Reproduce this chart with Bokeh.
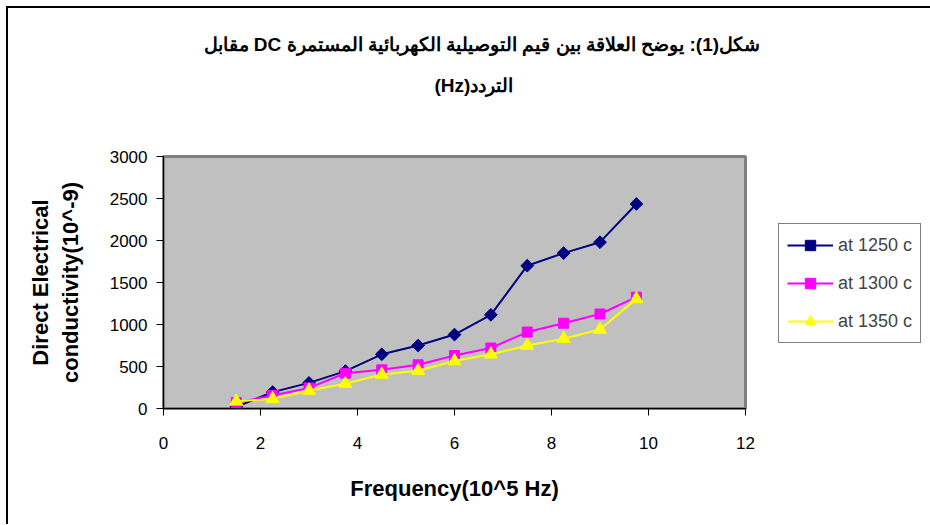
import math
from bokeh.plotting import figure
from bokeh.models import Range1d, FixedTicker, Legend, LegendItem, Title
from bokeh.layouts import row
from bokeh.embed import file_html
from bokeh.resources import INLINE

# ---- data ----
freq = [1.5, 2.25, 3.0, 3.75, 4.5, 5.25, 6.0, 6.75, 7.5, 8.25, 9.0, 9.75]
cond_1250 = [20, 195, 305, 445, 645, 750, 880, 1115, 1700, 1850, 1980, 2435]
cond_1300 = [70, 155, 245, 420, 460, 520, 630, 720, 910, 1015, 1125, 1325]
cond_1350 = [85, 115, 215, 295, 405, 450, 565, 645, 750, 830, 940, 1305]
series_labels = ["at 1250 c", "at 1300 c", "at 1350 c"]
x_ticks = [0, 2, 4, 6, 8, 10, 12]
y_ticks = [0, 500, 1000, 1500, 2000, 2500, 3000]
title_line1 = "شكل(1): يوضح العلاقة بين قيم التوصيلية الكهربائية المستمرة DC مقابل"
title_line2 = "التردد(Hz)"
x_label = "Frequency(10^5 Hz)"
y_label = "Direct Electrical\nconductivity(10^-9)"

RLE, PDF = "\u202B", "\u202C"
FONT = "Liberation Sans"
colors = ["#000080", "#FF00FF", "#FFFF00"]
markers = ["diamond", "square", "triangle"]

# ---------------- main chart ----------------
p = figure(width=762, height=516,
           x_range=Range1d(0, 12), y_range=Range1d(0, 3000),
           output_backend="svg", toolbar_location=None,
           min_border_left=155, min_border_right=25,
           min_border_top=148, min_border_bottom=116,
           background_fill_color="#C0C0C0",
           border_fill_color="white")

xa = p.xaxis[0]
ya = p.yaxis[0]

p.outline_line_color = "#808080"
p.outline_line_width = 3
p.xgrid.visible = False
p.ygrid.visible = False

for ax in (xa, ya):
    ax.axis_line_color = "black"
    ax.axis_line_width = 1
    ax.major_tick_line_color = "black"
    ax.major_tick_out = 7
    ax.major_tick_in = 0
    ax.minor_tick_out = 0
    ax.minor_tick_in = 0
    ax.major_label_text_font = FONT
    ax.major_label_text_font_size = "17px"
    ax.major_label_text_color = "black"
    ax.axis_label_text_font = FONT
    ax.axis_label_text_font_size = "22px"
    ax.axis_label_text_font_style = "bold"
    ax.axis_label_text_color = "black"

xa.ticker = FixedTicker(ticks=x_ticks)
ya.ticker = FixedTicker(ticks=y_ticks)
xa.major_label_standoff = 21
ya.major_label_standoff = 9
xa.axis_label = x_label
ya.axis_label = y_label
xa.axis_label_standoff = 24
ya.axis_label_standoff = 24

# blank spacer between the title block and the plot area
p.add_layout(Title(text=" ", text_font=FONT, text_font_size="10px", standoff=39), "above")

# second title line (below the first)
p.add_layout(Title(text=RLE + title_line2 + PDF, align="left", offset=271, standoff=18,
                   text_font=FONT, text_font_size="19px", text_font_style="bold",
                   text_color="black"), "above")

# first title line (outermost)
p.title.text = RLE + title_line1 + PDF
p.title.align = "left"
p.title.offset = 40
p.title.standoff = 17
p.title.text_font = FONT
p.title.text_font_size = "19px"
p.title.text_font_style = "bold"
p.title.text_color = "black"

for ys, col, mk in zip([cond_1250, cond_1300, cond_1350], colors, markers):
    p.line(freq, ys, line_color=col, line_width=2)
    if mk == "diamond":
        p.scatter(freq, ys, marker="square", size=9, angle=math.pi / 4,
                  fill_color=col, line_color=col)
    elif mk == "square":
        p.scatter(freq, ys, marker="square", size=10, fill_color=col, line_color=col)
    else:
        p.scatter(freq, ys, marker="triangle", size=13, fill_color=col, line_color=col)

# ---------------- legend panel ----------------
q = figure(width=160, height=516, x_range=Range1d(0, 1), y_range=Range1d(0, 1),
           output_backend="svg", toolbar_location=None,
           x_axis_type=None, y_axis_type=None,
           min_border_left=0, min_border_right=0, min_border_top=0, min_border_bottom=0,
           outline_line_color=None, background_fill_color="white", border_fill_color="white")
items = []
for col, lab, mk in zip(colors, series_labels, markers):
    # legend-only renderers: placed outside the visible range
    ln = q.line(x=[-5, -4], y=[-5, -4], line_color=col, line_width=2)
    if mk == "diamond":
        sc = q.scatter(x=[-5], y=[-5], marker="square", size=9, angle=math.pi / 4,
                       fill_color=col, line_color=col)
    elif mk == "square":
        sc = q.scatter(x=[-5], y=[-5], marker="square", size=10, fill_color=col, line_color=col)
    else:
        sc = q.scatter(x=[-5], y=[-5], marker="triangle", size=13, fill_color=col, line_color=col)
    items.append(LegendItem(label=lab, renderers=[ln, sc]))

legend = Legend(items=items, location=(8, 65),
                label_text_font=FONT, label_text_font_size="18px",
                glyph_width=46, glyph_height=26, spacing=12, padding=8,
                label_standoff=5, margin=0,
                border_line_color="black", border_line_width=1,
                background_fill_color="white", background_fill_alpha=1)
q.add_layout(legend, "center")

layout = row(p, q, styles={"margin-left": "6px", "margin-top": "6px",
                           "border-left": "2px solid black", "border-top": "2px solid black"})

open("out.html", "w").write(file_html(layout, INLINE))
